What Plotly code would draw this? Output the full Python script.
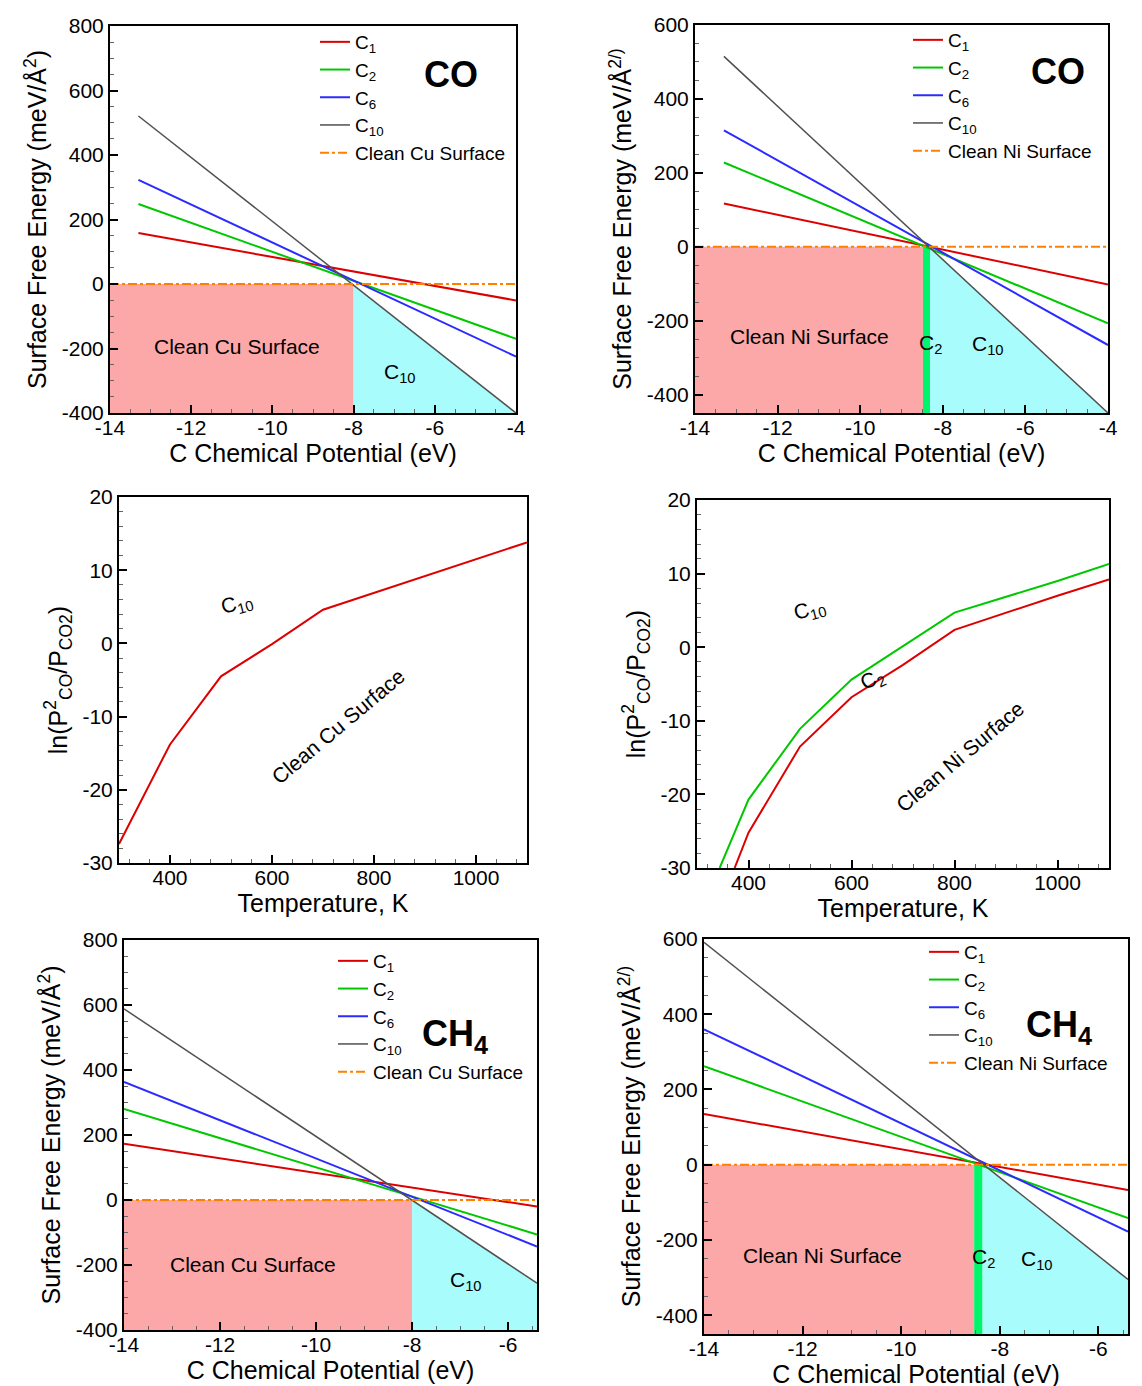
import numpy as np
import plotly.graph_objects as go

W, H = 1142, 1386
OFF = 8  # page body margin of the exported html, compensated in the layout

# ---------------- DATA ----------------
# (a) CO, Cu surface
co_cu_mu = [-13.3, -4.0]
co_cu_C1 = [158, -51]
co_cu_C2 = [248, -170]
co_cu_C6 = [323, -225]
co_cu_C10 = [521, -400]
co_cu_phase_edges = [-14.0, -8.0, -4.0]          # clean Cu | C10

# (b) CO, Ni surface
co_ni_mu = [-13.3, -4.0]
co_ni_C1 = [117, -102]
co_ni_C2 = [228, -207]
co_ni_C6 = [315, -266]
co_ni_C10 = [515, -450]
co_ni_phase_edges = [-14.0, -8.48, -8.31, -4.0]  # clean Ni | C2 | C10

# (c) Cu phase diagram
cu_T = [300, 400, 500, 600, 700, 800, 900, 1000, 1100]
cu_lnP = [-27.4, -13.8, -4.5, -0.1, 4.6, 6.9, 9.2, 11.5, 13.8]

# (d) Ni phase diagram
ni_T_c2 = [344, 400, 500, 600, 800, 1000, 1100]
ni_lnP_c2 = [-30.0, -20.7, -11.1, -4.4, 4.7, 9.0, 11.3]
ni_T_c1 = [373, 400, 500, 600, 700, 800, 1000, 1100]
ni_lnP_c1 = [-30.0, -25.2, -13.5, -6.8, -2.4, 2.35, 7.0, 9.2]

# (e) CH4, Cu surface
ch4_cu_mu = [-14.0, -5.4]
ch4_cu_C1 = [173, -20]
ch4_cu_C2 = [280, -106]
ch4_cu_C6 = [363, -143]
ch4_cu_C10 = [588, -256]
ch4_cu_phase_edges = [-14.0, -8.0, -5.4]

# (f) CH4, Ni surface
ch4_ni_mu = [-14.0, -5.4]
ch4_ni_C1 = [135, -67]
ch4_ni_C2 = [262, -142]
ch4_ni_C6 = [360, -178]
ch4_ni_C10 = [591, -305]
ch4_ni_phase_edges = [-14.0, -8.52, -8.35, -5.4]

# tick values
mu_ticks_a = [-14, -12, -10, -8, -6, -4]
mu_ticks_e = [-14, -12, -10, -8, -6]
E_ticks_cu = [-400, -200, 0, 200, 400, 600, 800]
E_ticks_ni = [-400, -200, 0, 200, 400, 600]
T_ticks = [400, 600, 800, 1000]
lnP_ticks = [-30, -20, -10, 0, 10, 20]

series_names = ["C<sub>1</sub>", "C<sub>2</sub>", "C<sub>6</sub>", "C<sub>10</sub>"]

# ---------------- STYLE ----------------
FONT = "Liberation Sans, Arial, sans-serif"
RED, GREEN, BLUE, GRAY, ORANGE = "#DD0000", "#00C800", "#2B2BFF", "#505050", "#FF8000"
PINK, CYAN, STRIP = "#FCA8A8", "#A8FCFC", "#00F56A"
line_colors = [RED, GREEN, BLUE, GRAY]
line_widths = [2, 2, 2, 1.5]
TICK_SIZE, TITLE_SIZE, LABEL_SIZE, LEG_SIZE, BIG_SIZE = 21, 25, 21, 19, 36

# pixel boxes of the six plot areas on the page (left, top, right, bottom)
boxes = {
    1: (110, 26, 516, 413),
    2: (695, 25, 1108, 413),
    3: (119, 497, 527, 863),
    4: (697, 500, 1109, 868),
    5: (124, 940, 537, 1330),
    6: (704, 939, 1128, 1334),
}

def hyph(v):
    return str(v).replace("\u2212", "-")

fig = go.Figure()
layout = dict(width=W, height=H, margin=dict(l=0, r=0, t=0, b=0, autoexpand=False),
              paper_bgcolor="white", plot_bgcolor="white",
              font=dict(family=FONT, color="black"))
annotations = []

def add_axes(i, xr, yr, xt, yt, xminor, yminor, xtitle, ytitle):
    l, t, r, b = [v - OFF for v in boxes[i]]
    sfx = "" if i == 1 else str(i)
    common = dict(showline=True, linewidth=2, linecolor="black", mirror=True,
                  ticks="inside", ticklen=8, tickwidth=2, tickcolor="black",
                  showgrid=False, zeroline=False, automargin=False,
                  tickfont=dict(size=TICK_SIZE, family=FONT, color="black"),
                  tickmode="array")
    layout["xaxis" + sfx] = dict(common, domain=[l / W, r / W], range=xr,
                                 anchor="y" + sfx, tickvals=xt,
                                 ticktext=[hyph(v) for v in xt], ticklabelstandoff=-5,
                                 minor=dict(ticks="inside", ticklen=4, tickwidth=1,
                                            tickcolor="#666", dtick=xminor, tick0=0,
                                            showgrid=False),
                                 title=dict(text=xtitle, font=dict(size=TITLE_SIZE, family=FONT),
                                            standoff=2))
    layout["yaxis" + sfx] = dict(common, domain=[1 - b / H, 1 - t / H], range=yr,
                                 anchor="x" + sfx, tickvals=yt,
                                 ticktext=[hyph(v) for v in yt],
                                 minor=dict(ticks="inside", ticklen=4, tickwidth=1,
                                            tickcolor="#666", dtick=yminor, tick0=0,
                                            showgrid=False),
                                 title=dict(text=ytitle, font=dict(size=TITLE_SIZE, family=FONT),
                                            standoff=8))

def energy_panel(i, mu, lines, edges, yr, legend_name, clean_label, ni):
    sfx = "" if i == 1 else str(i)
    xa, ya = "x" + sfx, "y" + sfx
    ymin = yr[0]
    c10 = lines[3]
    # clean surface region
    fig.add_trace(go.Scatter(x=[edges[0], edges[1], edges[1], edges[0], edges[0]],
                             y=[ymin, ymin, 0, 0, ymin], fill="toself", fillcolor=PINK,
                             mode="lines", line=dict(width=0), showlegend=False,
                             hoverinfo="skip", xaxis=xa, yaxis=ya))
    c10_start = edges[1]
    if ni:
        fig.add_trace(go.Scatter(x=[edges[1], edges[2], edges[2], edges[1], edges[1]],
                                 y=[ymin, ymin, 0, 0, ymin], fill="toself", fillcolor=STRIP,
                                 mode="lines", line=dict(width=0), showlegend=False,
                                 hoverinfo="skip", xaxis=xa, yaxis=ya))
        c10_start = edges[2]
    xs = [c10_start, edges[-1]]
    ys = list(np.interp(xs, mu, c10))
    fig.add_trace(go.Scatter(x=[xs[0], xs[0], xs[1], xs[1], xs[0]],
                             y=[ymin, min(ys[0], 0), ys[1], ymin, ymin], fill="toself",
                             fillcolor=CYAN, mode="lines", line=dict(width=0),
                             showlegend=False, hoverinfo="skip", xaxis=xa, yaxis=ya))
    for name, vals, col, lw in zip(series_names, lines, line_colors, line_widths):
        fig.add_trace(go.Scatter(x=mu, y=vals, mode="lines", name=name,
                                 line=dict(color=col, width=lw), legend=legend_name,
                                 xaxis=xa, yaxis=ya))
    fig.add_trace(go.Scatter(x=[edges[0], edges[-1]], y=[0, 0], mode="lines",
                             name=clean_label, line=dict(color=ORANGE, width=2, dash="dashdot"),
                             legend=legend_name, xaxis=xa, yaxis=ya))

E_title_cu = "Surface Free Energy (meV/Å<sup>2</sup>)"
E_title_ni = "Surface Free Energy (meV/Å<sup>2/)</sup>"
mu_title = "C Chemical Potential (eV)"
lnP_title = "ln(P<sup>2</sup><sub>CO</sub>/P<sub>CO2</sub>)"

# ---- panel 1
energy_panel(1, co_cu_mu, [co_cu_C1, co_cu_C2, co_cu_C6, co_cu_C10], co_cu_phase_edges,
             [-400, 800], "legend", "Clean Cu Surface", False)
add_axes(1, [-14, -4], [-400, 800], mu_ticks_a, E_ticks_cu, 0.5, 50, mu_title, E_title_cu)
# ---- panel 2
energy_panel(2, co_ni_mu, [co_ni_C1, co_ni_C2, co_ni_C6, co_ni_C10], co_ni_phase_edges,
             [-450, 600], "legend2", "Clean Ni Surface", True)
add_axes(2, [-14, -4], [-450, 600], mu_ticks_a, E_ticks_ni, 0.5, 50, mu_title, E_title_ni)
# ---- panel 3
fig.add_trace(go.Scatter(x=cu_T, y=cu_lnP, mode="lines", line=dict(color=RED, width=2),
                         showlegend=False, xaxis="x3", yaxis="y3"))
add_axes(3, [300, 1100], [-30, 20], T_ticks, lnP_ticks, 40, 2, "Temperature, K", lnP_title)
# ---- panel 4
fig.add_trace(go.Scatter(x=ni_T_c2, y=ni_lnP_c2, mode="lines", line=dict(color=GREEN, width=2),
                         showlegend=False, xaxis="x4", yaxis="y4"))
fig.add_trace(go.Scatter(x=ni_T_c1, y=ni_lnP_c1, mode="lines", line=dict(color=RED, width=2),
                         showlegend=False, xaxis="x4", yaxis="y4"))
add_axes(4, [300, 1100], [-30, 20], T_ticks, lnP_ticks, 40, 2, "Temperature, K", lnP_title)
# ---- panel 5
energy_panel(5, ch4_cu_mu, [ch4_cu_C1, ch4_cu_C2, ch4_cu_C6, ch4_cu_C10], ch4_cu_phase_edges,
             [-400, 800], "legend3", "Clean Cu Surface", False)
add_axes(5, [-14, -5.4], [-400, 800], mu_ticks_e, E_ticks_cu, 0.5, 50, mu_title, E_title_cu)
# ---- panel 6
energy_panel(6, ch4_ni_mu, [ch4_ni_C1, ch4_ni_C2, ch4_ni_C6, ch4_ni_C10], ch4_ni_phase_edges,
             [-450, 600], "legend4", "Clean Ni Surface", True)
add_axes(6, [-14, -5.4], [-450, 600], mu_ticks_e, E_ticks_ni, 0.5, 50, mu_title, E_title_ni)

# ---------------- legends ----------------
def legend_at(px, py):
    px, py = px - OFF, py - OFF
    return dict(x=px / W, y=1 - py / H, xanchor="left", yanchor="top",
                bgcolor="rgba(0,0,0,0)", font=dict(size=LEG_SIZE, family=FONT, color="black"),
                tracegroupgap=0, itemclick=False)

layout["legend"] = legend_at(315, 23)
layout["legend2"] = legend_at(908, 21)
layout["legend3"] = legend_at(333, 942)
layout["legend4"] = legend_at(924, 933)

# ---------------- annotations ----------------
def ann(text, x, y, ref, size=LABEL_SIZE, angle=0, bold=False):
    sfx = "" if ref == 1 else str(ref)
    annotations.append(dict(text=("<b>%s</b>" % text) if bold else text, x=x, y=y,
                            xref="x" + sfx, yref="y" + sfx, showarrow=False,
                            textangle=angle, font=dict(size=size, family=FONT, color="black")))

ann("Clean Cu Surface", -10.87, -195, 1)
ann("C<sub>10</sub>", -6.86, -276, 1)
ann("CO", -5.6, 650, 1, size=BIG_SIZE, bold=True)

ann("Clean Ni Surface", -11.22, -242, 2)
ann("C<sub>2</sub>", -8.31, -262, 2)
ann("C<sub>10</sub>", -6.9, -266, 2)
ann("CO", -5.2, 475, 2, size=BIG_SIZE, bold=True)

ann("C<sub>10</sub>", 531, 5.4, 3, angle=-15)
ann("Clean Cu Surface", 729, -11.3, 3, angle=-40)

ann("C<sub>10</sub>", 519, 5.0, 4, angle=-15)
ann("C<sub>2</sub>", 640, -4.5, 4, angle=-25)
ann("Clean Ni Surface", 811, -14.9, 4, angle=-40)

ann("Clean Cu Surface", -11.31, -197, 5)
ann("C<sub>10</sub>", -6.875, -249, 5)
ann("CH<sub>4</sub>", -7.1, 505, 5, size=BIG_SIZE, bold=True)

ann("Clean Ni Surface", -11.59, -240, 6)
ann("C<sub>2</sub>", -8.34, -248, 6)
ann("C<sub>10</sub>", -7.25, -253, 6)
ann("CH<sub>4</sub>", -6.8, 365, 6, size=BIG_SIZE, bold=True)

layout["annotations"] = annotations
fig.update_layout(**layout)
fig.write_html("out.html")
